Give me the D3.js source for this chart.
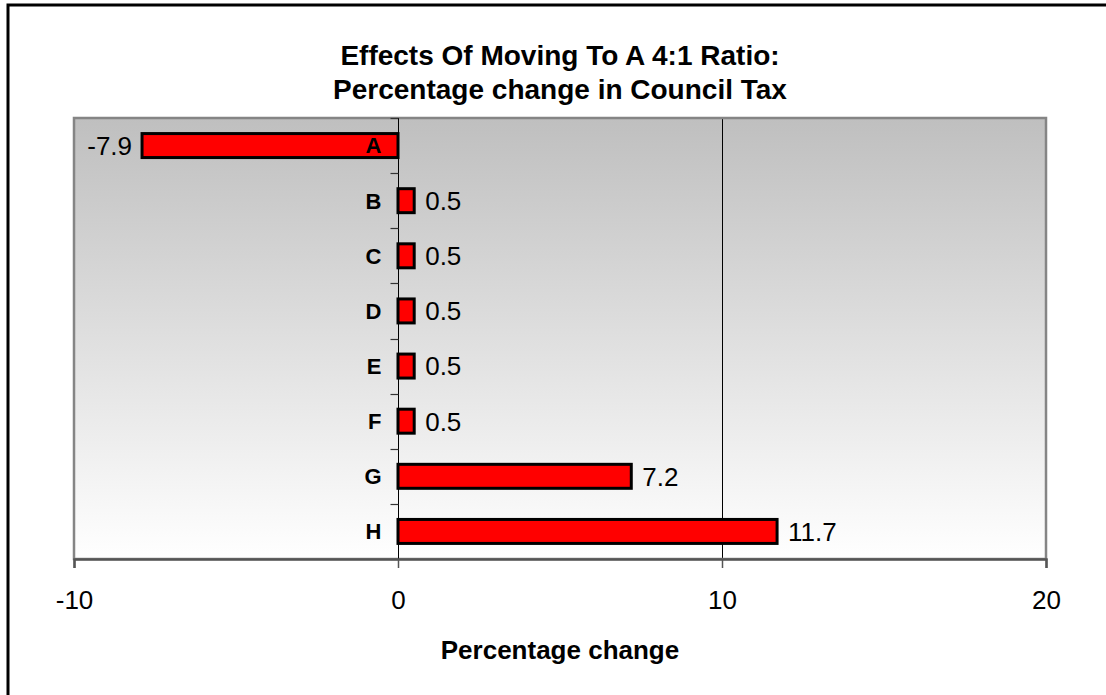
<!DOCTYPE html>
<html>
<head>
<meta charset="utf-8">
<script src="https://cdn.jsdelivr.net/npm/d3@7"></script>
<style>
html, body { margin: 0; padding: 0; background: #fff; overflow: hidden; }
svg { display: block; font-family: "Liberation Sans", Arial, Helvetica, sans-serif; }
</style>
</head>
<body>
<svg id="chart" width="1106" height="695"></svg>
<script>
const categories = ["A", "B", "C", "D", "E", "F", "G", "H"];
const values = [-7.9, 0.5, 0.5, 0.5, 0.5, 0.5, 7.2, 11.7];
const valueLabels = ["-7.9", "0.5", "0.5", "0.5", "0.5", "0.5", "7.2", "11.7"];
const xTicks = [-10, 0, 10, 20];
const xTickLabels = ["-10", "0", "10", "20"];
const titleLines = ["Effects Of Moving To A 4:1 Ratio:", "Percentage change in Council Tax"];
const xAxisTitle = "Percentage change";

const svg = d3.select("#chart");
const W = 1106, H = 695;
const plot = { left: 74, right: 1046, top: 118, bottom: 559 };

// outer frame (clipped at right/bottom like the reference)
svg.append("rect").attr("x", 8).attr("y", 5).attr("width", W + 20).attr("height", H + 20)
  .attr("fill", "#fff").attr("stroke", "#000").attr("stroke-width", 3);

const defs = svg.append("defs");
const grad = defs.append("linearGradient").attr("id", "bg").attr("x1", 0).attr("y1", 0).attr("x2", 0).attr("y2", 1);
grad.append("stop").attr("offset", "0%").attr("stop-color", "#bfbfbf");
grad.append("stop").attr("offset", "100%").attr("stop-color", "#ffffff");

const x = d3.scaleLinear().domain([-10, 20]).range([plot.left, plot.right]);
const y = d3.scaleBand().domain(categories).range([plot.top, plot.bottom])
  .paddingInner(0.565).paddingOuter(0.2825);
const step = y.step();
const crisp = v => Math.round(v) + 0.5;

// plot background
svg.append("rect").attr("x", plot.left).attr("y", plot.top)
  .attr("width", plot.right - plot.left).attr("height", plot.bottom - plot.top)
  .attr("fill", "url(#bg)");

// vertical gridlines (interior non-zero ticks)
svg.append("g").selectAll("line").data(xTicks.filter(t => t !== 0 && t > -10 && t < 20)).join("line")
  .attr("x1", d => crisp(x(d))).attr("x2", d => crisp(x(d)))
  .attr("y1", plot.top).attr("y2", plot.bottom)
  .attr("stroke", "#000").attr("stroke-width", 1);

// plot border
svg.append("rect").attr("x", plot.left).attr("y", plot.top)
  .attr("width", plot.right - plot.left).attr("height", plot.bottom - plot.top)
  .attr("fill", "none").attr("stroke", "#858585").attr("stroke-width", 2.5);

// zero (category) axis line with ticks at category boundaries
const x0 = crisp(x(0));
svg.append("line").attr("x1", x0).attr("x2", x0).attr("y1", plot.top).attr("y2", plot.bottom)
  .attr("stroke", "#000").attr("stroke-width", 1);
const boundaries = d3.range(categories.length + 1).map(i => plot.top + i * step);
svg.append("g").selectAll("line").data(boundaries).join("line")
  .attr("x1", x0 - 8).attr("x2", x0).attr("y1", d => crisp(d)).attr("y2", d => crisp(d))
  .attr("stroke", "#333").attr("stroke-width", 1.2);

// bottom x axis
const xAxis = d3.axisBottom(x).tickValues(xTicks).tickSize(9).tickPadding(12)
  .tickFormat((d, i) => xTickLabels[i]);
const gx = svg.append("g").attr("transform", `translate(0,${plot.bottom})`).call(xAxis);
gx.select(".domain").attr("stroke", "#555").attr("stroke-width", 2.5);
gx.selectAll(".tick line").attr("stroke", "#555").attr("stroke-width", 1.5);
gx.selectAll(".tick text").attr("font-size", 26).attr("fill", "#000")
  .attr("font-family", "'Liberation Sans', Arial, sans-serif")
  .attr("dy", 0).attr("y", 50);

// bars
svg.append("g").selectAll("rect").data(values).join("rect")
  .attr("x", d => x(Math.min(0, d)))
  .attr("y", (d, i) => y(categories[i]))
  .attr("width", d => Math.abs(x(d) - x(0)))
  .attr("height", y.bandwidth())
  .attr("fill", "#ff0000").attr("stroke", "#000").attr("stroke-width", 3);

// category labels
svg.append("g").selectAll("text").data(categories).join("text")
  .attr("x", x0 - 17)
  .attr("y", d => y(d) + y.bandwidth() / 2)
  .attr("dy", "0.36em")
  .attr("text-anchor", "end")
  .attr("font-size", 22).attr("font-weight", "bold").attr("fill", "#000")
  .text(d => d);

// value labels
svg.append("g").selectAll("text").data(values).join("text")
  .attr("x", d => d < 0 ? x(d) - 10 : x(d) + 11)
  .attr("y", (d, i) => y(categories[i]) + y.bandwidth() / 2)
  .attr("dy", "0.36em")
  .attr("text-anchor", d => d < 0 ? "end" : "start")
  .attr("font-size", 26).attr("fill", "#000")
  .text((d, i) => valueLabels[i]);

// title
const cx = (plot.left + plot.right) / 2;
svg.append("g").selectAll("text").data(titleLines).join("text")
  .attr("x", cx).attr("y", (d, i) => 65 + i * 34)
  .attr("text-anchor", "middle").attr("font-size", 28).attr("font-weight", "bold").attr("fill", "#000")
  .text(d => d);

// x axis title
svg.append("text").attr("x", cx).attr("y", 659)
  .attr("text-anchor", "middle").attr("font-size", 26).attr("font-weight", "bold").attr("fill", "#000")
  .text(xAxisTitle);
</script>
</body>
</html>
